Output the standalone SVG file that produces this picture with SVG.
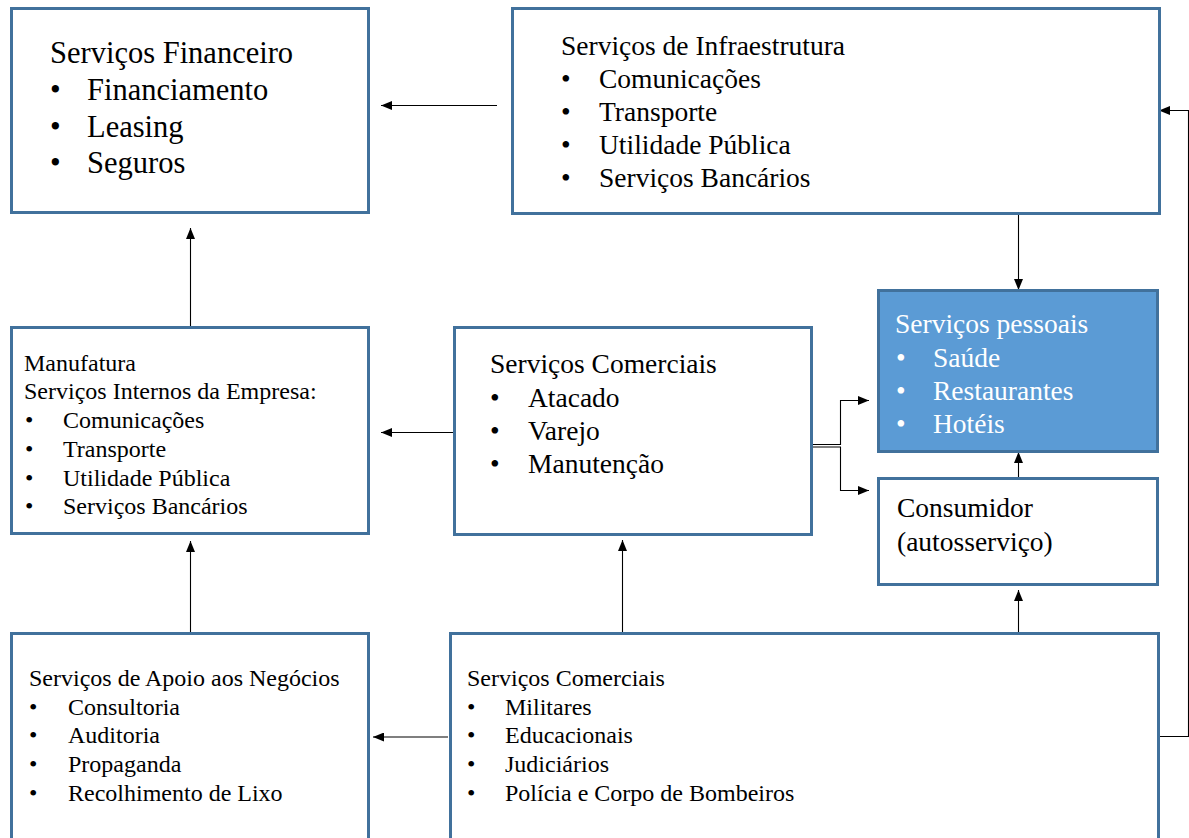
<svg xmlns="http://www.w3.org/2000/svg" width="1189" height="838" viewBox="0 0 1189 838">
<defs>
<marker id="ah" markerUnits="userSpaceOnUse" markerWidth="11" markerHeight="9" viewBox="0 0 11 9" refX="11" refY="4.5" orient="auto">
<path d="M0,0 L11,4.5 L0,9 Z" fill="#000"/>
</marker>
<style>
.box{fill:#fff;stroke:#41719c;stroke-width:3}
.blue{fill:#5b9bd5;stroke:#41719c;stroke-width:3}
.t{font-family:"Liberation Serif","Times New Roman",serif;fill:#000}
.w{fill:#fff}
.c{fill:none;stroke:#000;stroke-width:1.1}
.a{marker-end:url(#ah)}
.f31{font-size:30.5px}
.f27{font-size:27.5px}
.f24{font-size:24px}
</style>
</defs>
<rect width="1189" height="838" fill="#fff"/>

<g id="connectors">
<line class="c a" x1="497" y1="105.5" x2="381" y2="105.5"/>
<line class="c a" x1="190.5" y1="327" x2="190.5" y2="228"/>
<line class="c a" x1="454" y1="432.5" x2="381" y2="432.5"/>
<line class="c a" x1="190.5" y1="632" x2="190.5" y2="541"/>
<line class="c a" x1="448" y1="737" x2="373" y2="737"/>
<line class="c a" x1="622.5" y1="632" x2="622.5" y2="540"/>
<line class="c a" x1="1018.5" y1="632" x2="1018.5" y2="590"/>
<line class="c a" x1="1018.5" y1="478" x2="1018.5" y2="452"/>
<line class="c a" x1="1018.5" y1="214" x2="1018.5" y2="290"/>
<polyline class="c a" points="813,444.5 840.5,444.5 840.5,400.5 869,400.5"/>
<polyline class="c a" points="813,447 840.5,447 840.5,490.5 869,490.5"/>
<polyline class="c a" points="1159,736.5 1188.5,736.5 1188.5,110.5 1159,110.5"/>
</g>

<g id="financeiro">
<rect class="box" x="11.5" y="8.5" width="357" height="204"/>
<text class="t f31" x="50" y="63">Serviços Financeiro</text>
<text class="t f31" x="50" y="100">•</text><text class="t f31" x="87" y="100">Financiamento</text>
<text class="t f31" x="50" y="137">•</text><text class="t f31" x="87" y="137">Leasing</text>
<text class="t f31" x="50" y="173">•</text><text class="t f31" x="87" y="173">Seguros</text>
</g>

<g id="infraestrutura">
<rect class="box" x="512.5" y="8.5" width="647" height="205"/>
<text class="t f27" x="561" y="55">Serviços de Infraestrutura</text>
<text class="t f27" x="561" y="88">•</text><text class="t f27" x="599" y="88">Comunicações</text>
<text class="t f27" x="561" y="121">•</text><text class="t f27" x="599" y="121">Transporte</text>
<text class="t f27" x="561" y="154">•</text><text class="t f27" x="599" y="154">Utilidade Pública</text>
<text class="t f27" x="561" y="187">•</text><text class="t f27" x="599" y="187">Serviços Bancários</text>
</g>

<g id="pessoais">
<rect class="blue" x="878.5" y="290.5" width="279" height="161"/>
<text class="t f27 w" x="895" y="333">Serviços pessoais</text>
<text class="t f27 w" x="896" y="367">•</text><text class="t f27 w" x="933" y="367">Saúde</text>
<text class="t f27 w" x="896" y="400">•</text><text class="t f27 w" x="933" y="400">Restaurantes</text>
<text class="t f27 w" x="896" y="433">•</text><text class="t f27 w" x="933" y="433">Hotéis</text>
</g>

<g id="consumidor">
<rect class="box" x="878.5" y="478.5" width="279" height="106"/>
<text class="t f27" x="897" y="517">Consumidor</text>
<text class="t f27" x="897" y="551">(autosserviço)</text>
</g>

<g id="manufatura">
<rect class="box" x="11.5" y="327.5" width="357" height="206"/>
<text class="t f24" x="24" y="371">Manufatura</text>
<text class="t f24" x="24" y="399">Serviços Internos da Empresa:</text>
<text class="t f24" x="25" y="428">•</text><text class="t f24" x="63" y="428">Comunicações</text>
<text class="t f24" x="25" y="457">•</text><text class="t f24" x="63" y="457">Transporte</text>
<text class="t f24" x="25" y="486">•</text><text class="t f24" x="63" y="486">Utilidade Pública</text>
<text class="t f24" x="25" y="514">•</text><text class="t f24" x="63" y="514">Serviços Bancários</text>
</g>

<g id="comerciais">
<rect class="box" x="454.5" y="327.5" width="357" height="207"/>
<text class="t f27" x="490" y="373">Serviços Comerciais</text>
<text class="t f27" x="490" y="407">•</text><text class="t f27" x="528" y="407">Atacado</text>
<text class="t f27" x="490" y="440">•</text><text class="t f27" x="528" y="440">Varejo</text>
<text class="t f27" x="490" y="473">•</text><text class="t f27" x="528" y="473">Manutenção</text>
</g>

<g id="apoio">
<rect class="box" x="11.5" y="633.5" width="357" height="215"/>
<text class="t f24" x="29" y="686">Serviços de Apoio aos Negócios</text>
<text class="t f24" x="29" y="715">•</text><text class="t f24" x="68" y="715">Consultoria</text>
<text class="t f24" x="29" y="743">•</text><text class="t f24" x="68" y="743">Auditoria</text>
<text class="t f24" x="29" y="772">•</text><text class="t f24" x="68" y="772">Propaganda</text>
<text class="t f24" x="29" y="801">•</text><text class="t f24" x="68" y="801">Recolhimento de Lixo</text>
</g>

<g id="comerciais-publicos">
<rect class="box" x="450.5" y="633.5" width="708" height="215"/>
<text class="t f24" x="467" y="686">Serviços Comerciais</text>
<text class="t f24" x="467" y="715">•</text><text class="t f24" x="505" y="715">Militares</text>
<text class="t f24" x="467" y="743">•</text><text class="t f24" x="505" y="743">Educacionais</text>
<text class="t f24" x="467" y="772">•</text><text class="t f24" x="505" y="772">Judiciários</text>
<text class="t f24" x="467" y="801">•</text><text class="t f24" x="505" y="801">Polícia e Corpo de Bombeiros</text>
</g>
</svg>
